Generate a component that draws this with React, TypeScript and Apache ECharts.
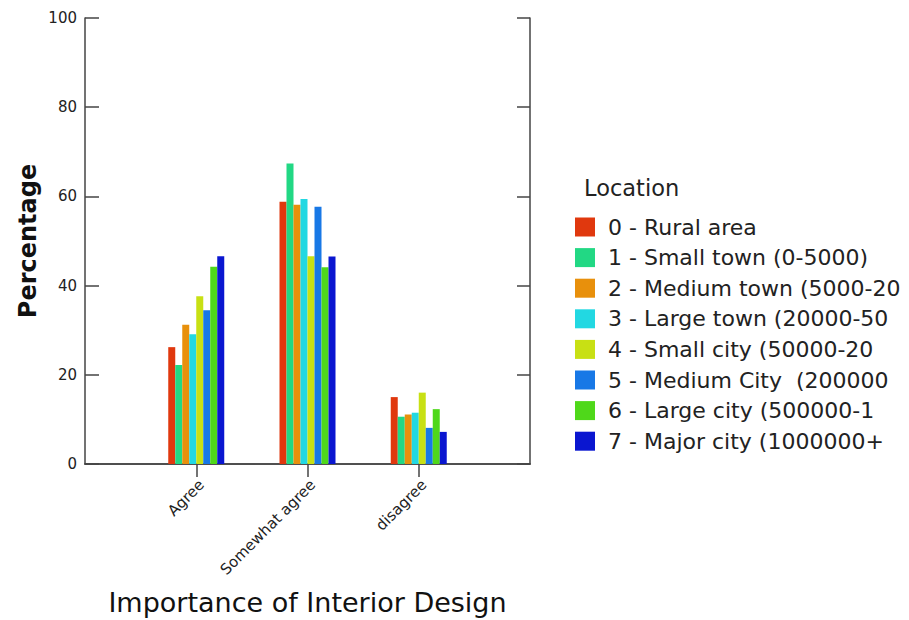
import React, { useEffect, useRef } from "react";
import * as echarts from "echarts";

const categories = ["", "Agree", "Somewhat agree", "disagree", ""];
const seriesNames = [
  "0 - Rural area",
  "1 - Small town (0-5000)",
  "2 - Medium town (5000-20",
  "3 - Large town (20000-50",
  "4 - Small city (50000-20",
  "5 - Medium City  (200000",
  "6 - Large city (500000-1",
  "7 - Major city (1000000+",
];
const seriesColors = ["#e0380e", "#22d884", "#e8900c", "#22d8e2", "#c8e014", "#1878e6", "#4fd81a", "#0a16d0"];
// values per series: [Agree, Somewhat agree, disagree]
const rural = [26.2, 58.8, 15.0];
const smallTown = [22.2, 67.4, 10.6];
const mediumTown = [31.2, 58.1, 11.1];
const largeTown = [29.1, 59.4, 11.5];
const smallCity = [37.6, 46.6, 16.0];
const mediumCity = [34.5, 57.7, 8.1];
const largeCity = [44.2, 44.1, 12.3];
const majorCity = [46.6, 46.5, 7.2];
const allValues = [rural, smallTown, mediumTown, largeTown, smallCity, mediumCity, largeCity, majorCity];

const FONT = "DejaVu Sans, Verdana, sans-serif";

export default function App() {
  const ref = useRef<HTMLDivElement>(null);
  useEffect(() => {
    if (!ref.current) return;
    const chart = echarts.init(ref.current, undefined, { renderer: "svg" });
    const axisLine = { show: true, lineStyle: { color: "#444", width: 1.5 } };
    chart.setOption({
      animation: false,
      backgroundColor: "#fff",
      textStyle: { fontFamily: FONT },
      title: {
        text: "Location",
        left: 584,
        top: 176,
        padding: 0,
        textStyle: { fontFamily: FONT, fontSize: 22.5, fontWeight: "normal", color: "#222" },
      },
      legend: {
        orient: "vertical",
        left: 575,
        top: 216,
        padding: 0,
        itemWidth: 20,
        itemHeight: 19,
        itemGap: 8.6,
        icon: "rect",
        data: seriesNames,
        textStyle: { fontFamily: FONT, fontSize: 22, color: "#222", padding: [0, 0, 0, 8] },
        selectedMode: false,
      },
      grid: { left: 85, top: 18, width: 445, height: 446, containLabel: false, outerBoundsMode: "none" },
      xAxis: [
        {
          type: "category",
          data: categories,
          boundaryGap: false,
          position: "bottom",
          axisLine,
          axisTick: { show: false },
          axisLabel: {
            rotate: 45,
            fontSize: 15,
            color: "#222",
            fontFamily: FONT,
            margin: 13,
            interval: 0,
            verticalAlign: "top",
          },
          name: "Importance of Interior Design",
          nameLocation: "middle",
          nameGap: 125,
          nameTextStyle: { fontFamily: FONT, fontSize: 27, color: "#111" },
        },
        {
          type: "category",
          data: categories,
          boundaryGap: false,
          position: "top",
          axisLine,
          axisTick: {
            show: true,
            inside: true,
            length: 13,
            lineStyle: { color: "#444", width: 1.5 },
            interval: (i: number) => i >= 1 && i <= 3,
          },
          axisLabel: { show: false },
        },
      ],
      yAxis: [
        {
          type: "value",
          min: 0,
          max: 100,
          interval: 20,
          position: "left",
          axisLine,
          splitLine: { show: false },
          axisTick: { show: true, inside: true, length: 14, lineStyle: { color: "#444", width: 1.5 } },
          axisLabel: { fontSize: 15, color: "#222", fontFamily: FONT, margin: 8 },
          name: "Percentage",
          nameLocation: "middle",
          nameGap: 45,
          nameTextStyle: { fontFamily: FONT, fontSize: 24, fontWeight: "bold", color: "#111" },
        },
        {
          type: "value",
          min: 0,
          max: 100,
          interval: 20,
          position: "right",
          axisLine,
          splitLine: { show: false },
          axisTick: { show: true, inside: true, length: 13, lineStyle: { color: "#444", width: 1.5 } },
          axisLabel: { show: false },
        },
      ],
      series: seriesNames.map((name, i) => ({
        name,
        type: "bar",
        xAxisIndex: 0,
        yAxisIndex: 0,
        barWidth: 7,
        barGap: "0%",
        itemStyle: { color: seriesColors[i] },
        data: [null, ...allValues[i], null],
      })),
    });
    return () => chart.dispose();
  }, []);
  return (
    <div
      ref={ref}
      style={{ position: "fixed", left: 0, top: 0, width: 909, height: 620, background: "#fff" }}
    />
  );
}
